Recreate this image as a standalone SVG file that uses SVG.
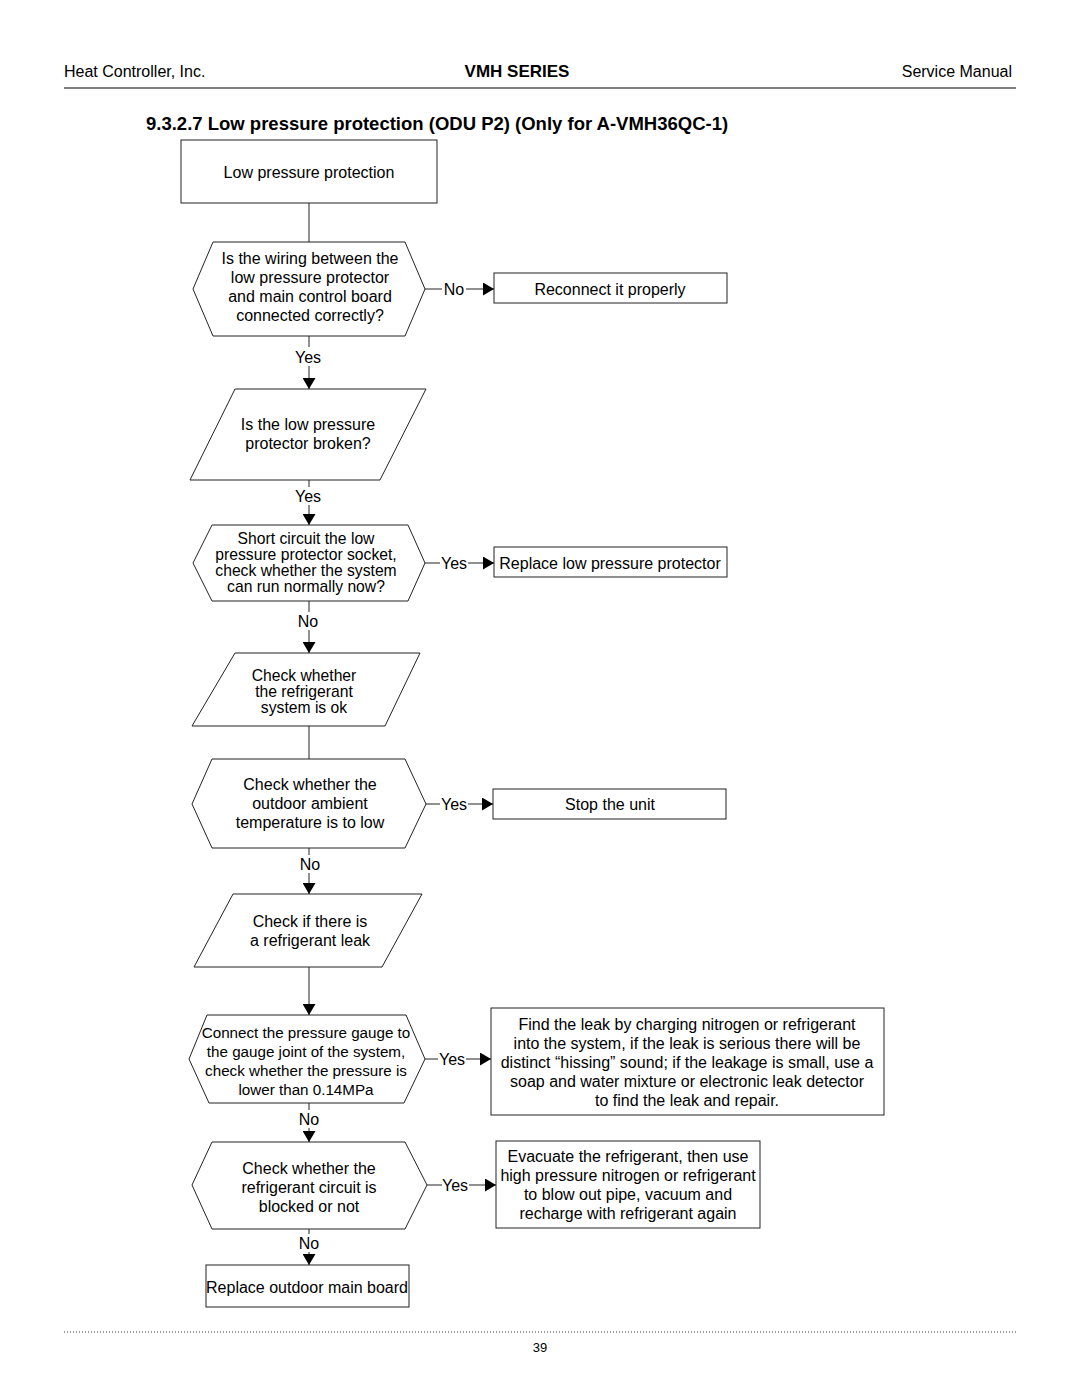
<svg xmlns="http://www.w3.org/2000/svg" width="1080" height="1397" viewBox="0 0 1080 1397">
<style>
text{font-family:"Liberation Sans",Arial,sans-serif;fill:#000}
.t{font-size:16px;text-anchor:middle}
.s{font-size:15.7px;text-anchor:middle}
.g{font-size:15.2px;text-anchor:middle}
.lbl{font-size:16px;text-anchor:middle}
.shape{fill:#fff;stroke:#222;stroke-width:1}
.c{stroke:#222;stroke-width:1;fill:none}
.hdr{font-size:16px}
</style>
<defs>
<marker id="ah" markerUnits="userSpaceOnUse" markerWidth="12" markerHeight="13" refX="11" refY="6.5" orient="auto">
<path d="M0,0 L11,6.5 L0,13 z" fill="#000"/>
</marker>
</defs>
<rect width="1080" height="1397" fill="#fff"/>
<g id="header">
<text class="hdr" x="64" y="77">Heat Controller, Inc.</text>
<text x="517" y="77" style="font-size:17px;font-weight:bold;text-anchor:middle">VMH SERIES</text>
<text class="hdr" x="1012" y="77" style="text-anchor:end">Service Manual</text>
<line x1="64" y1="88" x2="1016" y2="88" stroke="#555" stroke-width="1.5"/>
<text x="146" y="130" style="font-size:18.5px;font-weight:bold">9.3.2.7 Low pressure protection (ODU P2) (Only for A-VMH36QC-1)</text>
</g>
<g id="n1"><rect class="shape" x="181" y="140" width="256" height="63"/><text class="t" x="309" y="177.5">Low pressure protection</text></g>
<g id="n2"><polygon class="shape" points="193,289 213,242 405,242 425,289 405,336 213,336"/>
<text class="t" x="310" y="263.5">Is the wiring between the</text><text class="t" x="310" y="282.5">low pressure protector</text><text class="t" x="310" y="301.5">and main control board</text><text class="t" x="310" y="320.5">connected correctly?</text></g>
<g id="n3"><rect class="shape" x="494" y="273" width="233" height="30"/><text class="t" x="610" y="294.5">Reconnect it properly</text></g>
<g id="n4"><polygon class="shape" points="235,389 426,389 380,480 190,480"/>
<text class="t" x="308" y="429.5">Is the low pressure</text><text class="t" x="308" y="448.5">protector broken?</text></g>
<g id="n5"><polygon class="shape" points="193,563 212,525 408,525 425,563 408,601 212,601"/>
<text class="s" x="306" y="543.5">Short circuit the low</text><text class="s" x="306" y="559.5">pressure protector socket,</text><text class="s" x="306" y="575.5">check whether the system</text><text class="s" x="306" y="591.5">can run normally now?</text></g>
<g id="n6"><rect class="shape" x="494" y="547" width="233" height="30"/><text class="t" x="610" y="568.5">Replace low pressure protector</text></g>
<g id="n7"><polygon class="shape" points="235,653 420,653 385,726 192,726"/>
<text class="s" x="304" y="680.5">Check whether</text><text class="s" x="304" y="696.5">the refrigerant</text><text class="s" x="304" y="712.5">system is ok</text></g>
<g id="n8"><polygon class="shape" points="192,804 212,759 405,759 426,804 405,848 212,848"/>
<text class="t" x="310" y="789.5">Check whether the</text><text class="t" x="310" y="808.5">outdoor ambient</text><text class="t" x="310" y="827.5">temperature is to low</text></g>
<g id="n9"><rect class="shape" x="493" y="789" width="233" height="30"/><text class="t" x="610" y="809.5">Stop the unit</text></g>
<g id="n10"><polygon class="shape" points="233,894 422,894 382,967 194,967"/>
<text class="t" x="310" y="926.5">Check if there is</text><text class="t" x="310" y="945.5">a refrigerant leak</text></g>
<g id="n11"><polygon class="shape" points="189,1059 207,1015 406,1015 425,1059 404,1103 209,1103"/>
<text class="g" x="306" y="1037.5">Connect the pressure gauge to</text><text class="g" x="306" y="1056.5">the gauge joint of the system,</text><text class="g" x="306" y="1075.5">check whether the pressure is</text><text class="g" x="306" y="1094.5">lower than 0.14MPa</text></g>
<g id="n12"><rect class="shape" x="491" y="1008" width="393" height="107"/>
<text class="t" x="687" y="1029.5">Find the leak by charging nitrogen or refrigerant</text><text class="t" x="687" y="1048.5">into the system, if the leak is serious there will be</text><text class="t" x="687" y="1067.5">distinct “hissing” sound; if the leakage is small, use a</text><text class="t" x="687" y="1086.5">soap and water mixture or electronic leak detector</text><text class="t" x="687" y="1105.5">to find the leak and repair.</text></g>
<g id="n13"><polygon class="shape" points="192,1185 212,1142 405,1142 427,1185 405,1229 212,1229"/>
<text class="t" x="309" y="1173.5">Check whether the</text><text class="t" x="309" y="1192.5">refrigerant circuit is</text><text class="t" x="309" y="1211.5">blocked or not</text></g>
<g id="n14"><rect class="shape" x="496" y="1141" width="264" height="87"/>
<text class="t" x="628" y="1161.5">Evacuate the refrigerant, then use</text><text class="t" x="628" y="1180.5">high pressure nitrogen or refrigerant</text><text class="t" x="628" y="1199.5">to blow out pipe, vacuum and</text><text class="t" x="628" y="1218.5">recharge with refrigerant again</text></g>
<g id="n15"><rect class="shape" x="206" y="1265" width="203" height="42"/><text class="t" x="307" y="1292.5">Replace outdoor main board</text></g>
<g id="connectors">
<line class="c" x1="309" y1="203" x2="309" y2="242"/>
<line class="c" x1="309" y1="336" x2="309" y2="347"/><text class="lbl" x="308" y="362.5">Yes</text><line class="c" x1="309" y1="366" x2="309" y2="389" marker-end="url(#ah)"/>
<line class="c" x1="309" y1="480" x2="309" y2="487"/><text class="lbl" x="308" y="501.5">Yes</text><line class="c" x1="309" y1="505" x2="309" y2="525" marker-end="url(#ah)"/>
<line class="c" x1="309" y1="601" x2="309" y2="612"/><text class="lbl" x="308" y="626.5">No</text><line class="c" x1="309" y1="630" x2="309" y2="653" marker-end="url(#ah)"/>
<line class="c" x1="309" y1="726" x2="309" y2="759"/>
<line class="c" x1="309" y1="848" x2="309" y2="855"/><text class="lbl" x="310" y="869.5">No</text><line class="c" x1="309" y1="873" x2="309" y2="894" marker-end="url(#ah)"/>
<line class="c" x1="309" y1="967" x2="309" y2="1015" marker-end="url(#ah)"/>
<line class="c" x1="309" y1="1103" x2="309" y2="1110"/><text class="lbl" x="309" y="1124.5">No</text><line class="c" x1="309" y1="1128" x2="309" y2="1142" marker-end="url(#ah)"/>
<line class="c" x1="309" y1="1229" x2="309" y2="1234"/><text class="lbl" x="309" y="1248.5">No</text><line class="c" x1="309" y1="1252" x2="309" y2="1265" marker-end="url(#ah)"/>
<line class="c" x1="425" y1="289" x2="442" y2="289"/><text class="lbl" x="454" y="294.5">No</text><line class="c" x1="466" y1="289" x2="494" y2="289" marker-end="url(#ah)"/>
<line class="c" x1="425" y1="563" x2="440" y2="563"/><text class="lbl" x="454" y="568.5">Yes</text><line class="c" x1="468" y1="563" x2="494" y2="563" marker-end="url(#ah)"/>
<line class="c" x1="426" y1="804" x2="440" y2="804"/><text class="lbl" x="454" y="809.5">Yes</text><line class="c" x1="468" y1="804" x2="493" y2="804" marker-end="url(#ah)"/>
<line class="c" x1="425" y1="1059" x2="438" y2="1059"/><text class="lbl" x="452" y="1064.5">Yes</text><line class="c" x1="466" y1="1059" x2="491" y2="1059" marker-end="url(#ah)"/>
<line class="c" x1="427" y1="1185" x2="442" y2="1185"/><text class="lbl" x="455" y="1190.5">Yes</text><line class="c" x1="469" y1="1185" x2="496" y2="1185" marker-end="url(#ah)"/>
</g>
<g id="footer">
<line x1="64" y1="1332" x2="1018" y2="1332" stroke="#333" stroke-width="1" stroke-dasharray="1,2"/>
<text x="540" y="1352" style="font-size:13px;text-anchor:middle">39</text>
</g>
</svg>
